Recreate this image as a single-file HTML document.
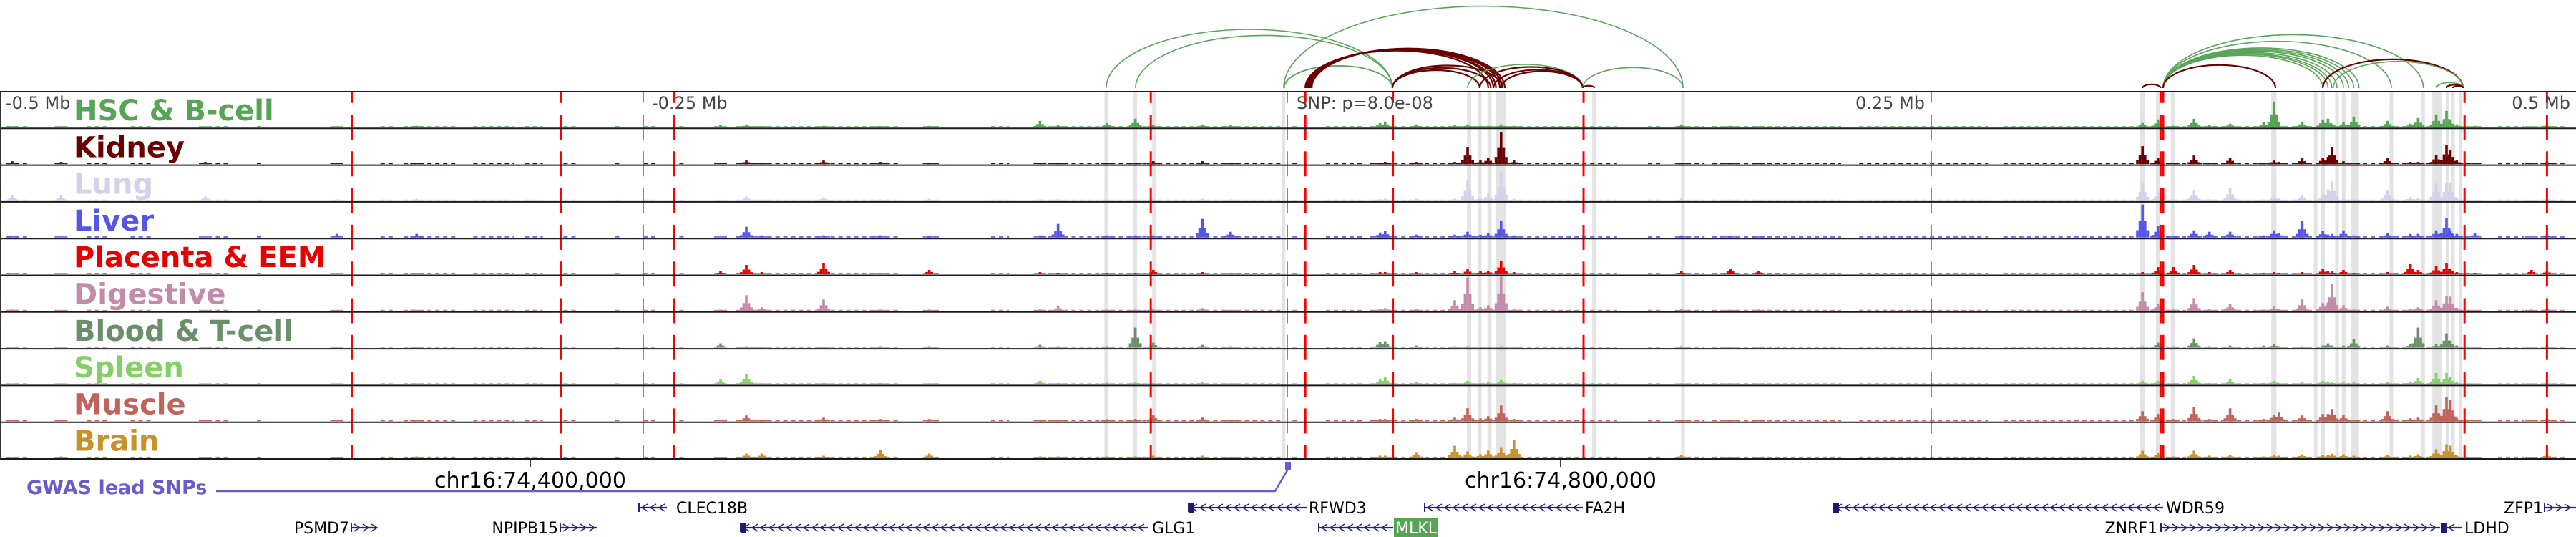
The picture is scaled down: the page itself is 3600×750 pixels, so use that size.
<!DOCTYPE html>
<html><head><meta charset="utf-8">
<style>
html,body{margin:0;padding:0;background:#fff;width:3600px;height:750px;overflow:hidden}
svg{display:block}
</style></head>
<body>
<svg id="chart" xmlns="http://www.w3.org/2000/svg" width="3600" height="750" viewBox="0 0 3600 750"></svg>
<script>
// ---------- data ----------
const trackNames = ["HSC & B-cell","Kidney","Lung","Liver","Placenta & EEM","Digestive","Blood & T-cell","Spleen","Muscle","Brain"];
const trackColors = ["#55a555","#6b0000","#d8d0ea","#5555e6","#e60000","#c48aaa","#6a8f6a","#85d066","#c0635a","#c8922a"];
const peakKb = [-495,-476,-420,-369,-338,-220,-210,-204,-180,-158,-139,-96,-89,-70,-59,-52,-33,-22,36,38,50,65,70,75,78,83,88,153,172,183,332,338,344,352,358,366,379,383,385,394,402,404,405.5,410,414,427,436,439,446,450,451.5,454,461,483,489];
const hsc      = [1,1,1,1,2,3,4,1,2,1,2,9,3,6,12,3,4,3,6,8,4,3,4,2,2,4,2,4,2,1,6,11,2,12,3,5,7,36,3,8,11,12,5,8,15,9,5,13,18,23,10,4,2,1,4];
const kidney   = [4,3,3,2,2,1,5,2,5,3,2,2,2,2,2,4,4,1,2,3,3,3,24,5,9,45,5,2,1,1,25,9,2,12,2,9,2,5,3,8,9,10,24,4,2,8,3,3,13,27,20,5,1,1,4];
const lung     = [8,8,6,2,3,1,6,1,5,2,3,2,2,1,2,3,3,2,2,3,3,3,28,5,10,40,3,3,1,1,25,12,2,14,2,18,2,6,3,7,9,16,27,3,2,15,5,4,25,25,25,4,1,1,4];
const liver    = [2,1,1,5,5,1,15,3,3,3,2,3,19,3,3,3,26,8,7,9,4,4,8,4,6,23,3,3,2,1,46,16,2,10,8,8,3,10,6,23,9,4,5,10,3,6,5,5,10,27,10,5,6,1,4];
const placenta = [1,1,1,1,1,4,13,3,15,1,6,3,2,2,2,6,3,1,3,3,3,4,7,4,5,19,3,4,8,5,3,10,10,13,3,6,2,3,2,3,7,4,4,6,2,3,14,6,11,15,8,3,2,6,5];
const digestive= [2,1,1,1,1,2,22,5,16,2,2,3,7,2,2,3,4,1,3,4,3,15,47,5,8,49,3,3,1,2,26,10,2,18,3,10,2,6,3,16,11,12,38,8,2,6,3,5,15,21,20,4,1,2,4];
const blood    = [1,1,1,1,1,6,2,1,1,2,2,4,2,2,28,7,4,2,8,9,3,2,2,1,1,2,1,2,1,1,2,7,2,13,2,3,3,5,2,2,3,6,3,3,12,3,5,28,5,20,10,3,1,1,3];
const spleen   = [1,1,1,1,1,7,14,1,2,2,1,5,2,3,4,2,3,1,7,10,3,2,5,2,3,6,2,1,1,1,5,5,2,12,2,7,2,5,2,3,5,4,3,3,3,3,4,9,16,16,10,3,1,1,2];
const muscle   = [1,1,1,1,1,1,8,1,5,3,3,2,2,3,3,8,5,2,3,3,3,5,18,4,7,22,3,2,1,1,14,10,3,20,3,18,3,9,12,8,10,10,17,8,2,14,4,5,22,34,30,4,1,1,4];
const brain    = [1,2,1,1,2,1,6,6,3,11,6,2,2,2,2,3,3,1,3,3,8,17,9,5,10,15,25,4,1,1,10,7,2,10,3,4,2,4,3,5,4,4,6,5,3,4,3,5,12,19,17,3,1,1,5];
const seriesValues = [hsc,kidney,lung,liver,placenta,digestive,blood,spleen,muscle,brain];
const baseSegKb = [[-497,-488],[-466,-458],[-449,-441],[-416,-411],[-400,-398],[-352,-346],[-343,-322],[-316,-300],[-296,-289],[-281,-276],[-261,-258],[-250,-245],[-236,-233],[-214,-150],[-140,-134],[-115,-108],[-96,-2],[2,5],[15,30],[32,128],[140,145],[152,162],[165,215],[222,272],[278,330],[335,460],[470,480],[488,497]];
const redLineKb = [-363,-282,-238,-53,7,41,115,339,340,457,489];
const axisTickKb = [-250,0,250];
const highlightKb = [[-71,-69.6],[-59.7,-58.3],[-52.4,-51],[-2.2,-0.8],[69.8,71.4],[74,75.4],[77.7,79.3],[81,84.8],[118.4,119.8],[152.9,154.3],[331,333],[337.2,338.6],[343,344.4],[382,384],[398.5,399.9],[401.4,402.8],[406.8,408.2],[409.4,410.8],[412.8,416],[427.9,429.3],[440.2,441.6],[444.5,448.3],[449.7,451.1],[451.8,453.2],[454.8,456.2]];
const arcStart = [-70.3,-58.9,-1.4,-1.2,-1.4,7,7.5,8,8.5,9,9.5,40.8,40.8,40.8,70,74.7,80,83,114.7,114.7,332,340,340,340,340,340,340,340,340,340,340,340,402,406,446,450,452.5];
const arcEnd   = [40.8,40.8,40.8,40.8,153.6,78,80,81,82.5,83.5,84.4,74.7,79,83.5,114.7,114.7,114.7,114.7,153.6,119.2,339,402,404,405.5,407.5,410,412,414,416,428.6,441,383.6,456.4,456.4,456.4,456.4,456.4];
const arcType  = ["g","g","g","g","g","m","m","m","m","m","m","m","m","m","g","m","m","m","g","m","m","g","g","g","g","g","g","g","g","g","g","m","m","g","g","m","m"];
const axisLabels = [["-0.5 Mb",8,"start"],["-0.25 Mb",911,"start"],["SNP: p=8.0e-08",1812,"start"],["0.25 Mb",2690,"end"],["0.5 Mb",3592,"end"]];

// ---------- helpers ----------
const NS="http://www.w3.org/2000/svg";
const svg=document.getElementById('chart');
function mk(tag,attrs,parent){const e=document.createElementNS(NS,tag);for(const k in attrs)e.setAttribute(k,attrs[k]);(parent||svg).appendChild(e);return e;}
const X0=1799, PXKB=3.6;
function xs(kb){return X0+kb*PXKB;}
const TOP=128, TH=51.3, NT=10;
function trackTop(i){return TOP+i*TH;}

// highlight bands
const gBands=mk('g',{});


highlightKb.forEach(b=>{
  const r=mk('rect',{x:xs(b[0]),y:TOP,width:Math.max(3,xs(b[1])-xs(b[0])),height:NT*TH,fill:'#e3e3e3'},gBands);
  
  
});

// signal tracks
for(let i=0;i<NT;i++){
  const g=mk('g',{fill:trackColors[i]});
  
  
  const base=trackTop(i)+TH-1.5;
  baseSegKb.forEach(s=>{
    const l=mk('line',{x1:xs(s[0]),x2:xs(s[1]),y1:base-0.8,y2:base-0.8,stroke:trackColors[i],"stroke-width":1.6,"stroke-dasharray":"6 5"},g);
    
    
  });
  const vals=seriesValues[i];
  peakKb.forEach((kb,j)=>{
    const v=vals[j];
    [[-2,0.22],[-1,0.5],[1,0.5],[2,0.22],[0,1]].forEach(o=>{
      const h=Math.max(1.5,Math.min(48,v*o[1]));
      const r=mk('rect',{x:xs(kb+o[0])-1.8,y:base-h,width:3.6,height:h},g);
      
      
    });
  });
}

// axis gray dashed lines
axisTickKb.forEach(kb=>{
  const l=mk('line',{x1:xs(kb),x2:xs(kb),y1:TOP,y2:TOP+NT*TH,stroke:'#888',"stroke-width":2,"stroke-dasharray":"35 16.3","stroke-dashoffset":19.3});
  
  
});
// red dashed lines
redLineKb.forEach(kb=>{
  const l=mk('line',{x1:xs(kb),x2:xs(kb),y1:TOP,y2:TOP+NT*TH,stroke:'#ff0000',"stroke-width":3,"stroke-dasharray":"35 16.3","stroke-dashoffset":19.3});
  
  
});

// track borders
for(let i=0;i<=NT;i++){
  const l=mk('line',{x1:0,x2:3600,y1:trackTop(i),y2:trackTop(i),stroke:'#1a1a1a',"stroke-width":2});
  
  
}
const lb=mk('line',{x1:1,x2:1,y1:TOP,y2:TOP+NT*TH,stroke:'#333',"stroke-width":2});



// track labels
trackNames.forEach((n,i)=>{
  const t=mk('text',{x:103,y:trackTop(i)+40,fill:trackColors[i],"font-family":"DejaVu Sans, sans-serif","font-weight":"bold","font-size":"40"});
  t.textContent=n;
  
  
});
// top axis labels
axisLabels.forEach(a=>{
  const t=mk('text',{x:a[1],y:152,fill:'#444',"font-family":"DejaVu Sans, sans-serif","font-size":"24","text-anchor":a[2]});
  t.textContent=a[0];
  
  
});

// arcs
const gArcs=mk('g',{fill:'none'});


arcStart.forEach((s,j)=>{
  const x1=xs(s),x2=xs(arcEnd[j]);const w=Math.abs(x2-x1);
  const rx=w/2, ry=0.205*w, by=123;
  const p=mk('path',{d:`M${x1},${by} A${rx},${ry} 0 0 1 ${x2},${by}`,stroke:arcType[j]==='g'?'#5aa55a':'#6b0000',"stroke-width":arcType[j]==='g'?1.6:2.2},gArcs);
  
  
});

// bottom coordinate ticks
[[741,"chr16:74,400,000"],[2181,"chr16:74,800,000"]].forEach(c=>{
  const l=mk('line',{x1:c[0],x2:c[0],y1:642,y2:652,stroke:'#000',"stroke-width":1.5});
  
  
  const t=mk('text',{x:c[0],y:681,"text-anchor":"middle","font-family":"DejaVu Sans, sans-serif","font-size":"30",fill:'#000'});
  t.textContent=c[1];
  
  
});

// GWAS track
const gw=mk('text',{x:37,y:690,fill:'#6a5acd',"font-family":"DejaVu Sans, sans-serif","font-weight":"bold","font-size":"27"});
gw.textContent="GWAS lead SNPs";


const gp=mk('polyline',{points:"302,686 1782,686 1800,655",fill:'none',stroke:'#6a5acd',"stroke-width":2.5});


const gs=mk('rect',{x:1796,y:645,width:8,height:11,fill:'#6a5acd'});



// genes
const genes=[
 {n:"CLEC18B",x1:893,x2:932,y:709,dir:-1,lx:945,anchor:"start",box:null},
 {n:"RFWD3",x1:1661,x2:1826,y:709,dir:-1,lx:1829,anchor:"start",box:1661},
 {n:"FA2H",x1:1991,x2:2212,y:709,dir:-1,lx:2215,anchor:"start",box:null},
 {n:"WDR59",x1:2562,x2:3023,y:709,dir:-1,lx:3027,anchor:"start",box:2562},
 {n:"ZFP1",x1:3556,x2:3600,y:709,dir:1,lx:3554,anchor:"end",box:null},
 {n:"PSMD7",x1:491,x2:527,y:737,dir:1,lx:488,anchor:"end",box:null},
 {n:"NPIPB15",x1:783,x2:834,y:737,dir:1,lx:780,anchor:"end",box:null},
 {n:"GLG1",x1:1035,x2:1605,y:737,dir:-1,lx:1610,anchor:"start",box:1035},
 {n:"MLKL",x1:1843,x2:1947,y:737,dir:-1,lx:null,anchor:"start",box:null},
 {n:"ZNRF1",x1:3020,x2:3410,y:737,dir:1,lx:3015,anchor:"end",box:3412},
 {n:"LDHD",x1:3418,x2:3440,y:737,dir:-1,lx:3444,anchor:"start",box:null}
];
genes.forEach(ge=>{
  const g=mk('g',{});
  
  
  mk('line',{x1:ge.x1,x2:ge.x2,y1:ge.y,y2:ge.y,stroke:'#23237a',"stroke-width":2.2},g);
  for(let x=ge.x1+8;x<ge.x2-3;x+=12){
    const d=-ge.dir*4;
    mk('polyline',{points:`${x+d},${ge.y-5} ${x-d},${ge.y} ${x+d},${ge.y+5}`,fill:'none',stroke:'#23237a',"stroke-width":1.5},g);
  }
  mk('line',{x1:ge.x1,x2:ge.x1,y1:ge.y-6,y2:ge.y+6,stroke:'#23237a',"stroke-width":2},g);
  if(ge.box!==null) mk('rect',{x:ge.box,y:ge.y-7,width:8,height:14,fill:'#1c1c6e'},g);
  if(ge.lx!==null){
    const t=mk('text',{x:ge.lx,y:ge.y+8,"text-anchor":ge.anchor,"font-family":"DejaVu Sans, sans-serif","font-size":"22",fill:'#000'},g);
    t.textContent=ge.n;
  }
});
const mb=mk('rect',{x:1948,y:723,width:62,height:27,fill:'#55a555'});


const mt=mk('text',{x:1979,y:745,"text-anchor":"middle","font-family":"DejaVu Sans, sans-serif","font-size":"22",fill:'#fff'});
mt.textContent="MLKL";


</script>
</body></html>
